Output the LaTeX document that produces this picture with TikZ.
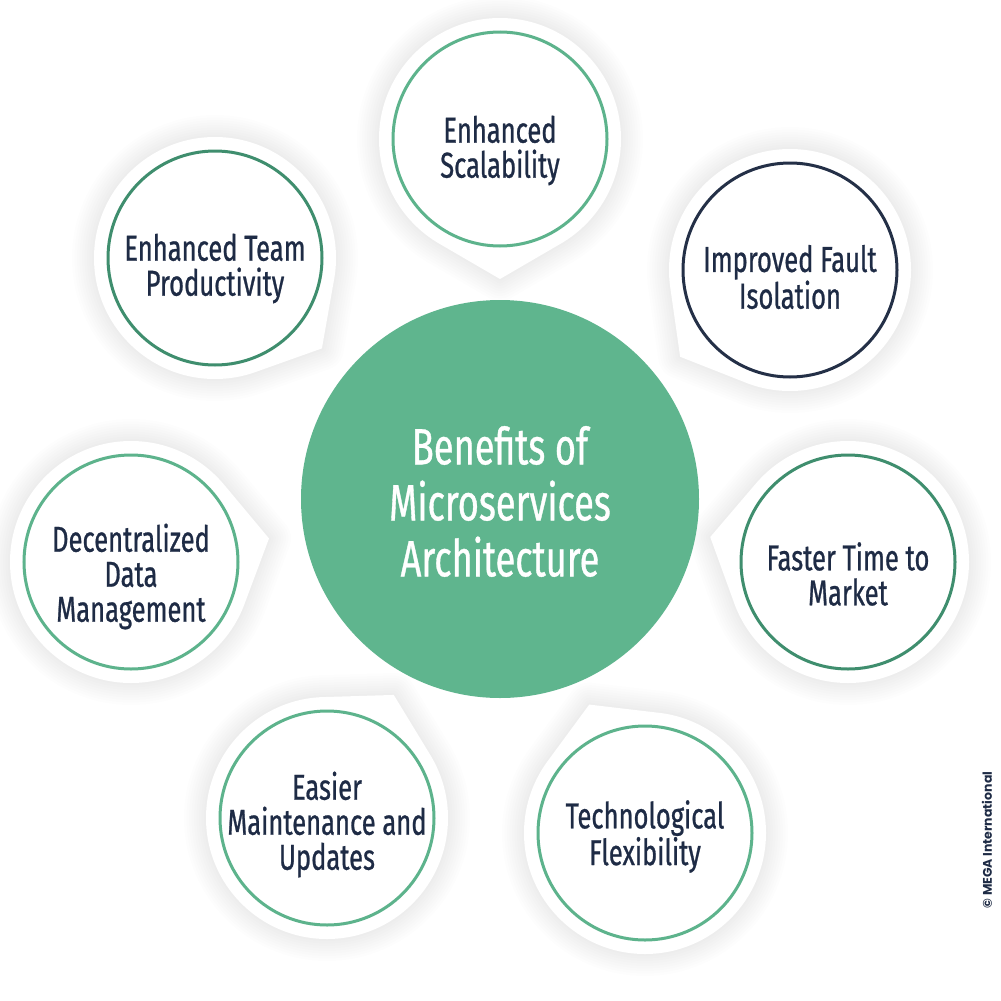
\documentclass[tikz,border=0pt]{standalone}
\usepackage{fontspec}
\setmainfont{Fira Sans}[FakeStretch=0.71, FakeBold=0.7]
\newfontfamily\copyfont{Poppins}
\usetikzlibrary{calc}
\definecolor{mainc}{HTML}{5FB58E}
\definecolor{lg}{HTML}{5DB38C}
\definecolor{dg}{HTML}{3F8E6E}
\definecolor{navy}{HTML}{243047}
\definecolor{txt}{HTML}{1E2B45}
\tikzset{
  satc/.style={circle, minimum size=214pt, inner sep=0pt, line width=3pt, fill=white},
  sattext/.style={align=center, text=txt, inner sep=0pt, font=\fontsize{36}{35}\selectfont},
  maintext/.style={align=center, text=white, inner sep=0pt, font=\fontsize{51}{56}\selectfont},
}
\begin{document}
\begin{tikzpicture}[x=1pt,y=-1pt]
\useasboundingbox (0,0) rectangle (1001,1001);
\fill[white] (0,0) rectangle (1001,1001);
\coordinate (m) at (500,499);
\foreach \n/\x/\y in {scal/500/139, fault/790/270, ttm/848/562, tech/645/833, maint/327/818, data/131/562, team/215/258}{
  \coordinate (\n) at (\x,\y);
}
% soft shadows
\foreach \n in {scal,fault,ttm,tech,maint,data,team}{
  \foreach \w in {4,9,...,44}{
    \draw[black, opacity=0.006, line width=\w pt, line join=round]
      ($(\n)!140pt!(m)$) -- ($(\n)!121pt!30:(m)$) -- ($(\n)!121pt!-30:(m)$) -- cycle
      (\n) circle[radius=121pt];
  }
}
% white bubbles
\foreach \n in {scal,fault,ttm,tech,maint,data,team}{
  \fill[white]
    ($(\n)!140pt!(m)$) -- ($(\n)!121pt!30:(m)$) -- ($(\n)!121pt!-30:(m)$) -- cycle
    (\n) circle[radius=121pt];
}
% outlined circles
\node[satc, draw=lg]   (c-scal)  at (scal)  {};
\node[satc, draw=navy] (c-fault) at (fault) {};
\node[satc, draw=dg]   (c-ttm)   at (ttm)   {};
\node[satc, draw=lg]   (c-tech)  at (tech)  {};
\node[satc, draw=lg]   (c-maint) at (maint) {};
\node[satc, draw=lg]   (c-data)  at (data)  {};
\node[satc, draw=dg]   (c-team)  at (team)  {};
% texts
\node[sattext, yshift=-11.5pt] (t-scal)  at (c-scal.center)  {Enhanced\\Scalability};
\node[sattext, yshift=-7pt]    (t-fault) at (c-fault.center) {Improved Fault\\Isolation};
\node[sattext, yshift=-12pt]   (t-ttm)   at (c-ttm.center)   {Faster Time to\\Market};
\node[sattext, yshift=-3.5pt]  (t-tech)  at (c-tech.center)  {Technological\\Flexibility};
\node[sattext, yshift=-6.5pt]  (t-maint) at (c-maint.center) {Easier\\Maintenance and\\Updates};
\node[sattext, yshift=-14.5pt] (t-data)  at (c-data.center)  {Decentralized\\Data\\Management};
\node[sattext, yshift=-10.5pt] (t-team)  at (c-team.center)  {Enhanced Team\\Productivity};
% main circle
\node[circle, fill=mainc, minimum size=398pt, inner sep=0pt] (main) at (m) {};
\node[maintext, yshift=-2.5pt] (t-main) at (main.center) {Benefits of\\Microservices\\Architecture};
% copyright
\node[rotate=90, text=txt, inner sep=0pt, font=\copyfont\bfseries\fontsize{12.5}{14}\selectfont] (copy) at (987,840) {© MEGA International};
\end{tikzpicture}
\end{document}
